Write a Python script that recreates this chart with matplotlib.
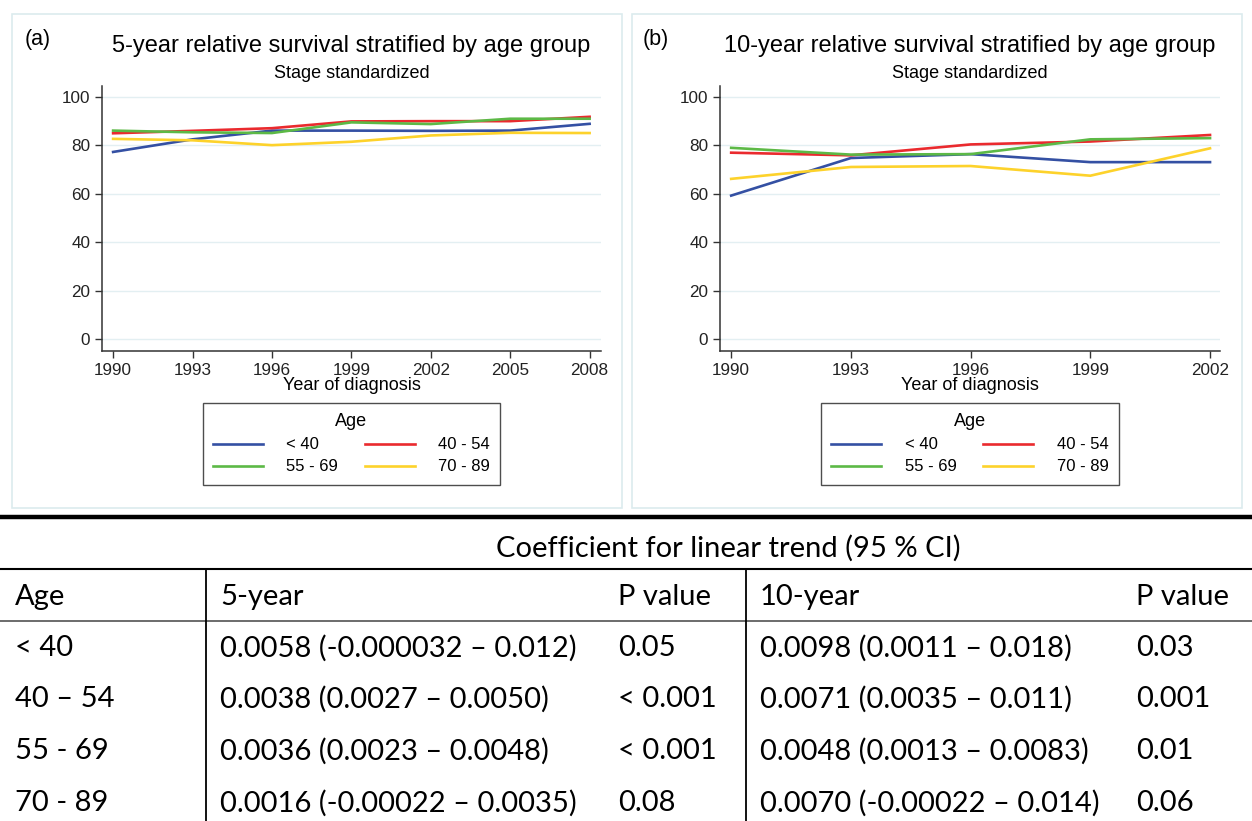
import matplotlib.pyplot as plt
from matplotlib.lines import Line2D
from matplotlib.patches import Rectangle

W, H = 1252, 821

# survival data
years_5 = [1990, 1993, 1996, 1999, 2002, 2005, 2008]
surv5_lt40 = [77.3, 82.5, 86.1, 86.1, 86.0, 86.1, 88.9]
surv5_40_54 = [85.0, 86.0, 87.1, 89.9, 90.0, 90.0, 91.8]
surv5_55_69 = [86.1, 85.4, 85.1, 89.5, 88.8, 91.0, 91.0]
surv5_70_89 = [82.7, 82.1, 80.1, 81.5, 84.1, 85.2, 85.1]

years_10 = [1990, 1993, 1996, 1999, 2002]
surv10_lt40 = [59.3, 74.8, 76.4, 73.1, 73.1]
surv10_40_54 = [77.0, 75.9, 80.4, 81.6, 84.3]
surv10_55_69 = [79.0, 76.2, 76.4, 82.5, 83.0]
surv10_70_89 = [66.2, 71.1, 71.5, 67.5, 78.8]

age_groups = ['< 40', '40 - 54', '55 - 69', '70 - 89']
colors = ['#3450a3', '#ea2a2e', '#5cb946', '#fdd22b']

# trend table
table_ages = ['< 40', '40 \u2013 54', '55 - 69', '70 - 89']
coef5 = ['0.0058 (-0.000032 \u2013 0.012)', '0.0038 (0.0027 \u2013 0.0050)',
         '0.0036 (0.0023 \u2013 0.0048)', '0.0016 (-0.00022 \u2013 0.0035)']
p5 = ['0.05', '< 0.001', '< 0.001', '0.08']
coef10 = ['0.0098 (0.0011 \u2013 0.018)', '0.0071 (0.0035 \u2013 0.011)',
          '0.0048 (0.0013 \u2013 0.0083)', '0.0070 (-0.00022 \u2013 0.014)']
p10 = ['0.03', '0.001', '0.01', '0.06']


def fx(px):
    return px / W


def fy(py):
    return 1 - py / H


plt.rcParams['font.family'] = ['Liberation Sans', 'DejaVu Sans']
fig = plt.figure(figsize=(W / 100, H / 100), dpi=100)

# panel frames
for x0, x1 in [(12, 622), (632, 1242)]:
    fig.add_artist(Rectangle((fx(x0), fy(508)), (x1 - x0) / W, (508 - 14) / H,
                             transform=fig.transFigure, fill=False,
                             edgecolor='#dcebee', lw=1.2))


def draw_panel(x0, x1, years, series, xlim, letter, title):
    ax = fig.add_axes([fx(x0), fy(351.5), (x1 - x0) / W, (351.5 - 86) / H])
    for vals, c in zip(series, colors):
        ax.plot(years, vals, color=c, lw=1.9)
    ax.set_xlim(*xlim)
    ax.set_ylim(-5, 104.5)
    ax.set_xticks(years)
    ax.set_yticks(range(0, 101, 20))
    ax.grid(axis='y', color='#e3eff2', lw=1)
    ax.set_axisbelow(True)
    for s in ['top', 'right']:
        ax.spines[s].set_visible(False)
    for s in ['left', 'bottom']:
        ax.spines[s].set_color('#333333')
        ax.spines[s].set_linewidth(1.1)
    ax.tick_params(colors='#333333', labelcolor='#222222', labelsize=12.3,
                   length=5, width=1.0)
    ax.set_xlabel('Year of diagnosis', fontsize=13, labelpad=-1)
    cx = fx((x0 + x1) / 2)
    fig.text(cx, fy(46), title, ha='center', va='center', fontsize=17)
    fig.text(cx, fy(73), 'Stage standardized', ha='center', va='center', fontsize=13)
    fig.text(fx(x0 - 77), fy(40), letter, ha='left', va='center', fontsize=15.5)
    lines = ax.get_lines()
    order = [0, 2, 1, 3]
    leg = ax.legend([lines[i] for i in order], [age_groups[i] for i in order],
                    ncol=2, title='Age', loc='upper center',
                    bbox_to_anchor=(cx, fy(403)), bbox_transform=fig.transFigure,
                    fontsize=12, title_fontsize=13, frameon=True, fancybox=False,
                    edgecolor='#222222', handlelength=3.0, handletextpad=1.4,
                    columnspacing=1.6, labelspacing=0.42, borderpad=0.62,
                    borderaxespad=0)
    leg.get_frame().set_linewidth(1.0)
    return ax


draw_panel(102, 601, years_5, [surv5_lt40, surv5_40_54, surv5_55_69, surv5_70_89],
           (1989.58, 2008.43), '(a)', '5-year relative survival stratified by age group')
draw_panel(720, 1220, years_10, [surv10_lt40, surv10_40_54, surv10_55_69, surv10_70_89],
           (1989.72, 2002.25), '(b)', '10-year relative survival stratified by age group')

# table rules
def hline(y, lw, color='black'):
    fig.add_artist(Line2D([0, 1], [fy(y), fy(y)], transform=fig.transFigure,
                          color=color, lw=lw))


def vline(x, y0, y1, lw=1.3):
    fig.add_artist(Line2D([fx(x), fx(x)], [fy(y0), fy(y1)], transform=fig.transFigure,
                          color='black', lw=lw))


hline(517, 3.2)
hline(569, 1.5)
hline(621, 1.1, '#444444')
vline(206, 569, 821)
vline(746, 569, 821)

tf = dict(family=['Lato', 'DejaVu Sans'], fontsize=21, va='center', ha='left', color='black')
fig.text(fx(728), fy(548), 'Coefficient for linear trend (95 % CI)', **{**tf, 'ha': 'center'})
header = ['Age', '5-year', 'P value', '10-year', 'P value']
col_x = [15, 220, 618, 760, 1136]
for x, t in zip(col_x, header):
    fig.text(fx(x), fy(597), t, **tf)
row_y = [648, 699, 751, 803]
for i, y in enumerate(row_y):
    for x, t in zip(col_x, [table_ages[i], coef5[i], p5[i], coef10[i], p10[i]]):
        fig.text(fx(x), fy(y), t, **tf)

fig.savefig('out.png', dpi=100)
